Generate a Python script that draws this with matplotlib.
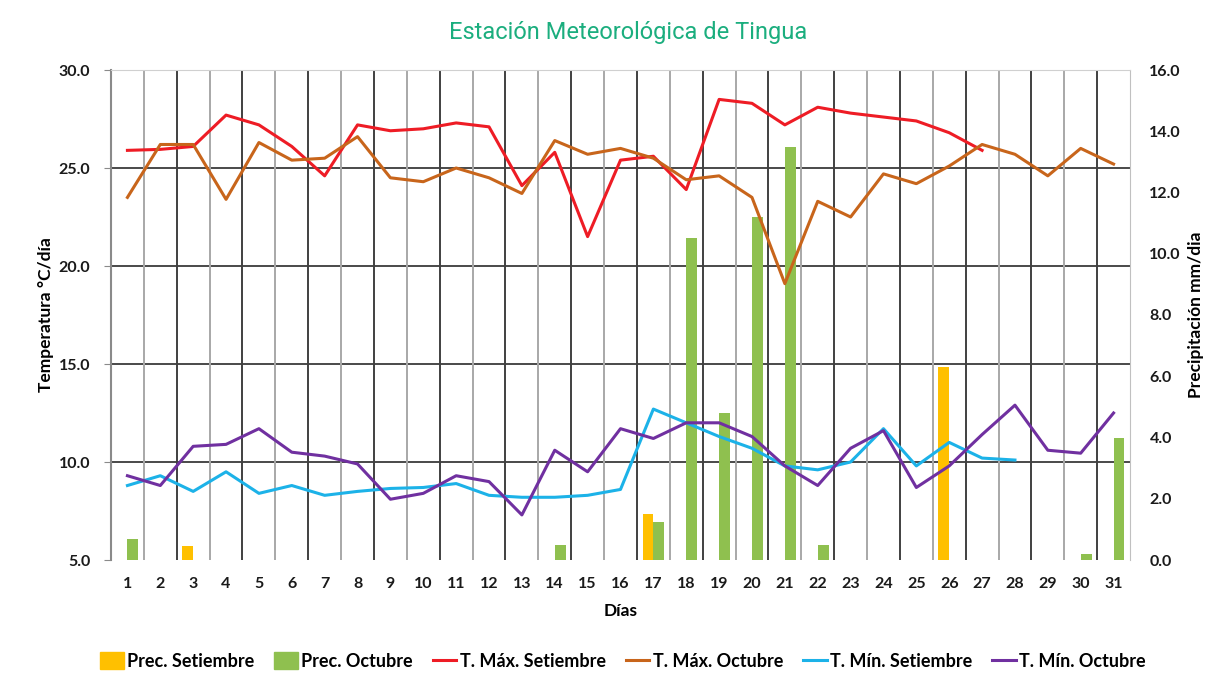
import matplotlib
matplotlib.use("Agg")
import matplotlib.pyplot as plt
import numpy as np
from matplotlib.lines import Line2D
from matplotlib.patches import Patch

plt.rcParams['font.family'] = ['Lato', 'DejaVu Sans']

days = list(range(1, 32))
prec_set = {3: 0.45, 17: 1.5, 26: 6.3}
prec_oct = {1: 0.7, 14: 0.5, 17: 1.25, 18: 10.5, 19: 4.8, 20: 11.2, 21: 13.5,
            22: 0.5, 30: 0.2, 31: 4.0}
tmax_set = [25.9, 25.95, 26.1, 27.7, 27.2, 26.1, 24.6, 27.2, 26.9, 27.0, 27.3,
            27.1, 24.1, 25.8, 21.5, 25.4, 25.6, 23.9, 28.5, 28.3, 27.2, 28.1,
            27.8, 27.6, 27.4, 26.8, 25.9]
tmax_oct = [23.5, 26.2, 26.2, 23.4, 26.3, 25.4, 25.5, 26.6, 24.5, 24.3, 25.0,
            24.5, 23.7, 26.4, 25.7, 26.0, 25.5, 24.4, 24.6, 23.5, 19.1, 23.3,
            22.5, 24.7, 24.2, 25.1, 26.2, 25.7, 24.6, 26.0, 25.2]
tmin_set = [8.8, 9.3, 8.5, 9.5, 8.4, 8.8, 8.3, 8.5, 8.65, 8.7, 8.9, 8.3, 8.2,
            8.2, 8.3, 8.6, 12.7, 12.0, 11.3, 10.7, 9.8, 9.6, 10.0, 11.7, 9.8,
            11.0, 10.2, 10.1]
tmin_oct = [9.3, 8.8, 10.8, 10.9, 11.7, 10.5, 10.3, 9.9, 8.1, 8.4, 9.3, 9.0,
            7.3, 10.6, 9.5, 11.7, 11.2, 12.0, 12.0, 11.3, 9.8, 8.8, 10.7, 11.6,
            8.7, 9.8, 11.4, 12.9, 10.6, 10.45, 12.5]

c_yellow = '#FFC000'
c_green = '#8FC04F'
c_red = '#EE1C25'
c_orange = '#C8651B'
c_cyan = '#1CB2E8'
c_purple = '#7030A0'

rect = [111/1225, 1-560/682, (1130-111)/1225, (560-70)/682]
fig = plt.figure(figsize=(12.25, 6.82), dpi=100)
ax = fig.add_axes(rect)
ax2 = ax.twinx()

# temperature axis
ax.set_ylim(5, 30)
ax.set_xlim(0.5, 31.5)
ax.set_yticks(np.arange(5, 30.1, 5))
ax.set_yticklabels([f"{v:.1f}" for v in np.arange(5, 30.1, 5)])
ax.set_xticks(days)
ax.set_xticklabels([str(d) for d in days])
for yv in [10, 15, 20, 25]:
    ax.axhline(yv, color='#3a3a3a', lw=1.3, zorder=1)
for k, xb in enumerate(np.arange(0.5, 31.6, 1)):
    if k == 0 or k == 31:
        continue
    col = '#404040' if k % 2 == 0 else '#a8a8a8'
    ax.axvline(xb, color=col, lw=1.4, zorder=1)

# precipitation bars
w = 0.33
ax2.set_ylim(0, 16)
ax2.set_yticks(np.arange(0, 16.1, 2))
ax2.set_yticklabels([f"{v:.1f}" for v in np.arange(0, 16.1, 2)])
ax2.bar([d - w/2 for d in prec_set], list(prec_set.values()), width=w,
        color=c_yellow, zorder=2)
ax2.bar([d + w/2 for d in prec_oct], list(prec_oct.values()), width=w,
        color=c_green, zorder=2)

# lines on top (separate overlay axes sharing x)
ax3 = fig.add_axes(rect, sharex=ax, frameon=False)
ax3.set_ylim(5, 30)
ax3.axis('off')
ax3.patch.set_alpha(0)
lw = 2.2
ax3.plot(days[:len(tmax_set)], tmax_set, color=c_red, lw=lw)
ax3.plot(days[:len(tmax_oct)], tmax_oct, color=c_orange, lw=lw)
ax3.plot(days[:len(tmin_set)], tmin_set, color=c_cyan, lw=lw)
ax3.plot(days[:len(tmin_oct)], tmin_oct, color=c_purple, lw=lw)

for a in (ax, ax2):
    for s in a.spines.values():
        s.set_visible(False)
ax.spines['left'].set_visible(True)
ax.spines['left'].set_color('#8a8a8a')
ax.spines['left'].set_linewidth(1.5)
ax.spines['top'].set_visible(True)
ax.spines['top'].set_color('#d0d0d0')
ax.spines['right'].set_visible(True)
ax.spines['right'].set_color('#c0c0c0')

ax.tick_params(axis='y', length=5, color='#8a8a8a', labelsize=11.5, pad=10)
ax.tick_params(axis='x', length=0, labelsize=11.5, pad=12)
ax2.yaxis.tick_right()
ax2.yaxis.set_label_position('right')
ax2.tick_params(axis='y', length=0, labelsize=11.5, pad=14)
for lab in ax.get_xticklabels() + ax.get_yticklabels() + ax2.get_yticklabels():
    lab.set_fontweight('bold')
    lab.set_color('#1a1a1a')

ax.set_ylabel('Temperatura °C/día', fontsize=12.5, fontweight='bold', labelpad=3)
ax2.set_ylabel('Precipitación mm/dia', fontsize=12.5, fontweight='bold', labelpad=5)
ax.set_xlabel('Días', fontsize=12.5, fontweight='bold', labelpad=9)

fig.text(628/1225, 1-32/682, 'Estación Meteorológica de Tingua', ha='center',
         va='center', fontsize=17, color='#1BAE7E', family=['Roboto', 'DejaVu Sans'])

handles = [Patch(color=c_yellow), Patch(color=c_green),
           Line2D([], [], color=c_red, lw=2.2), Line2D([], [], color=c_orange, lw=2.2),
           Line2D([], [], color=c_cyan, lw=2.2), Line2D([], [], color=c_purple, lw=2.2)]
labels = ['Prec. Setiembre', 'Prec. Octubre', 'T. Máx. Setiembre',
          'T. Máx. Octubre', 'T. Mín. Setiembre', 'T. Mín. Octubre']
fig.legend(handles, labels, loc='center', bbox_to_anchor=(623/1225, 1-661/682),
           ncol=6, frameon=False, prop={'weight': 'bold', 'size': 13},
           handlelength=1.3, handleheight=1.0, handletextpad=0.2, columnspacing=1.1)

fig.savefig('out.png', dpi=100, facecolor='white')
